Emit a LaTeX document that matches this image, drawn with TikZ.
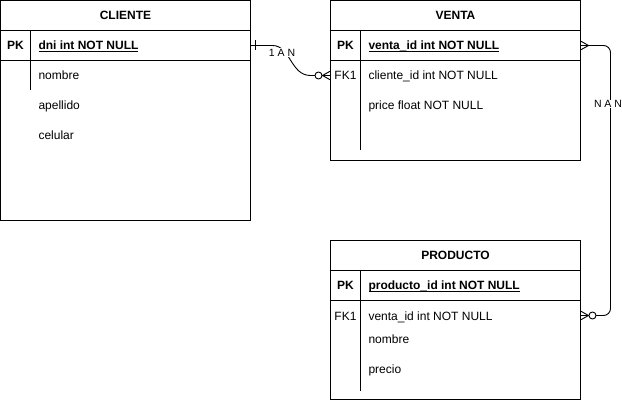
\documentclass[tikz,border=0pt]{standalone}
\usepackage{fontspec}
\setmainfont{Liberation Sans}
\usetikzlibrary{calc}
\newcommand\myul[1]{\setbox0\hbox{#1}\rlap{\rule[-1.8pt]{\wd0}{0.8pt}}\box0}
\begin{document}
\begin{tikzpicture}[x=1pt,y=-1pt, line width=1pt,
  tbl/.style={draw, anchor=north west, minimum width=250pt, inner sep=0pt, outer sep=0pt},
  rowbox/.style={minimum width=250pt, minimum height=30pt, inner sep=0pt, outer sep=0pt},
  ttl/.style={anchor=base, inner sep=0pt, font=\fontsize{12}{14}\selectfont\bfseries},
  key/.style={anchor=base, inner sep=0pt, font=\fontsize{12}{14}\selectfont\bfseries},
  fk/.style={anchor=base, inner sep=0pt, font=\fontsize{12}{14}\selectfont},
  pkfield/.style={anchor=base west, inner sep=0pt, font=\fontsize{12}{14}\selectfont\bfseries},
  field/.style={anchor=base west, inner sep=0pt, font=\fontsize{12}{14}\selectfont},
  elabel/.style={fill=white, inner sep=0.6pt, font=\fontsize{10.5}{12}\selectfont},
  conn/.style={draw, line width=0.9pt}
]
\useasboundingbox[fill=white] (0,0) rectangle (622,401);

% ---------- CLIENTE ----------
\node[tbl, minimum height=220pt] (cli) at (0.5,0.5) {};
\draw ($(cli.north west)+(0,30)$) -- ($(cli.north east)+(0,30)$);
\draw ($(cli.north west)+(0,60)$) -- ($(cli.north east)+(0,60)$);
\draw ($(cli.north west)+(30,30)$) -- ($(cli.north west)+(30,90)$);
\node[rowbox] (cdni) at ($(cli.north)+(0,45)$) {};
\node[ttl] (clit) at (125.5,20) {CLIENTE};
\node[key] (clipk) at (15.5,50) {PK};
\node[pkfield] (clidni) at (38,50) {\myul{dni int NOT NULL}};
\node[field] (clinom) at (38,80) {nombre};
\node[field] (cliape) at (38,110) {apellido};
\node[field] (clicel) at (38,140) {celular};

% ---------- VENTA ----------
\node[tbl, minimum height=160pt] (ven) at (330.5,0.5) {};
\draw ($(ven.north west)+(0,30)$) -- ($(ven.north east)+(0,30)$);
\draw ($(ven.north west)+(0,60)$) -- ($(ven.north east)+(0,60)$);
\draw ($(ven.north west)+(30,30)$) -- ($(ven.north west)+(30,150)$);
\node[rowbox] (vpk) at ($(ven.north)+(0,45)$) {};
\node[rowbox] (vfk) at ($(ven.north)+(0,75)$) {};
\node[ttl] (vent) at (455.5,20) {VENTA};
\node[key] (venpk) at (345.5,50) {PK};
\node[pkfield] (venid) at (368,50) {\myul{venta\_id int NOT NULL}};
\node[fk] (venfk) at (345.5,80) {FK1};
\node[field] (vencli) at (368,80) {cliente\_id int NOT NULL};
\node[field] (venpri) at (368,110) {price float NOT NULL};

% ---------- PRODUCTO ----------
\node[tbl, minimum height=159pt] (pro) at (330.5,240.5) {};
\draw ($(pro.north west)+(0,30)$) -- ($(pro.north east)+(0,30)$);
\draw ($(pro.north west)+(0,60)$) -- ($(pro.north east)+(0,60)$);
\draw ($(pro.north west)+(30,30)$) -- ($(pro.north west)+(30,150)$);
\node[rowbox] (pfk) at ($(pro.north)+(0,75)$) {};
\node[ttl] (prot) at (455.5,260) {PRODUCTO};
\node[key] (propk) at (345.5,290) {PK};
\node[pkfield] (proid) at (368,290) {\myul{producto\_id int NOT NULL}};
\node[fk] (profk) at (345.5,320) {FK1};
\node[field] (proven) at (368,320) {venta\_id int NOT NULL};
\node[field] (pronom) at (368,343) {nombre};
\node[field] (propre) at (368,373) {precio};

% ---------- connector CLIENTE -> VENTA ----------
\draw[conn] (cdni.east) -- ++(22,0) .. controls ++(18,0) and ($(vfk.west)+(-40,0)$) .. ($(vfk.west)+(-20,0)$) -- (vfk.west);
\node[elabel] (lab1) at (282,52.5) {1 A N};
% one mark
\draw[conn] ($(cdni.east)+(5,-5)$) -- ($(cdni.east)+(5,5)$);
% zero-or-many mark
\draw[conn] ($(vfk.west)+(-8,0)$) -- ($(vfk.west)+(0,-4.5)$);
\draw[conn] ($(vfk.west)+(-8,0)$) -- ($(vfk.west)+(0,4.5)$);
\draw[conn, fill=white] ($(vfk.west)+(-12,0)$) circle (3.5pt);

% ---------- connector VENTA -> PRODUCTO ----------
\draw[conn, rounded corners=7pt] (vpk.east) -- ($(vpk.east)+(30,0)$) -- ($(pfk.east)+(30,0)$) -- (pfk.east);
\node[elabel] (lab2) at (608,104) {N A N};
% many mark
\draw[conn] ($(vpk.east)+(8,0)$) -- ($(vpk.east)+(0,-4.5)$);
\draw[conn] ($(vpk.east)+(8,0)$) -- ($(vpk.east)+(0,4.5)$);
% zero-or-many mark
\draw[conn] ($(pfk.east)+(8,0)$) -- ($(pfk.east)+(0,-4.5)$);
\draw[conn] ($(pfk.east)+(8,0)$) -- ($(pfk.east)+(0,4.5)$);
\draw[conn, fill=white] ($(pfk.east)+(12,0)$) circle (3.5pt);
\end{tikzpicture}
\end{document}
